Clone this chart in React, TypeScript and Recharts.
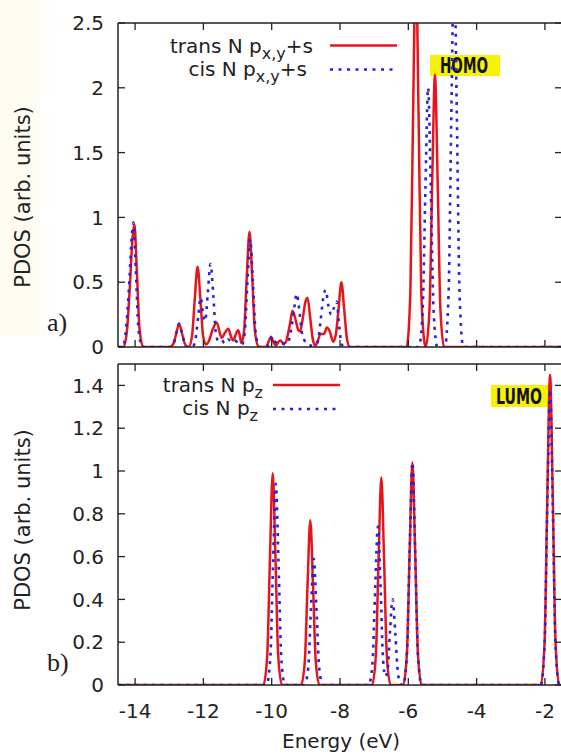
import React from 'react';
import { LineChart, Line, XAxis, YAxis } from 'recharts';

type Pt = [number, number];

// ---- axes ----
const energyTicks = [-14, -12, -10, -8, -6, -4, -2];
const energyDomain: [number, number] = [-14.5, -1.5];
const panelATicks = [0, 0.5, 1, 1.5, 2, 2.5];
const panelADomain: [number, number] = [0, 2.5];
const panelBTicks = [0, 0.2, 0.4, 0.6, 0.8, 1, 1.2, 1.4];
const panelBDomain: [number, number] = [0, 1.5];

// ---- panel a) : N p(x,y)+s  [energy eV, PDOS] ----
const aTrans: Pt[] = [
  [-14.5, 0], [-14.34, 0], [-14.24, 0.12], [-14.15, 0.48], [-14.08, 0.82], [-14.02, 0.95], [-13.95, 0.6], [-13.87, 0.14], [-13.76, 0],
  [-12.98, 0], [-12.87, 0.03], [-12.79, 0.11], [-12.71, 0.18], [-12.63, 0.11], [-12.55, 0.03], [-12.46, 0],
  [-12.43, 0], [-12.33, 0.09], [-12.25, 0.38], [-12.17, 0.62], [-12.09, 0.38], [-12.01, 0.09], [-11.93, 0.02],
  [-11.85, 0.04], [-11.72, 0.14], [-11.61, 0.19], [-11.5, 0.09], [-11.46, 0.07], [-11.37, 0.11], [-11.27, 0.14],
  [-11.18, 0.07], [-11.12, 0.05], [-11.05, 0.1], [-10.98, 0.13], [-10.92, 0.07],
  [-10.89, 0.03], [-10.81, 0.12], [-10.73, 0.54], [-10.65, 0.89], [-10.57, 0.54], [-10.49, 0.12], [-10.38, 0],
  [-10.17, 0], [-10.09, 0.04], [-10.02, 0.08], [-9.95, 0.04], [-9.88, 0.01], [-9.8, 0.04], [-9.74, 0.05],
  [-9.67, 0.03], [-9.6, 0.03], [-9.55, 0.07], [-9.47, 0.17], [-9.39, 0.28], [-9.31, 0.22], [-9.22, 0.13],
  [-9.17, 0.12], [-9.09, 0.22], [-9.02, 0.34], [-8.95, 0.38], [-8.87, 0.22], [-8.79, 0.05], [-8.72, 0.01],
  [-8.66, 0.04], [-8.57, 0.1], [-8.47, 0.1], [-8.38, 0.15], [-8.3, 0.12], [-8.2, 0.04], [-8.12, 0.1],
  [-8.04, 0.3], [-7.96, 0.5], [-7.88, 0.3], [-7.8, 0.07], [-7.71, 0],
  [-6.05, 0], [-5.94, 0.42], [-5.86, 1.8], [-5.78, 3.0], [-5.7, 1.8], [-5.62, 0.42], [-5.51, 0.01],
  [-5.49, 0], [-5.38, 0.29], [-5.3, 1.27], [-5.22, 2.1], [-5.14, 1.27], [-5.06, 0.29], [-4.95, 0],
  [-1.5, 0],
];

const aCis: Pt[] = [
  [-14.5, 0], [-14.37, 0], [-14.27, 0.12], [-14.18, 0.45], [-14.11, 0.8], [-14.05, 0.96], [-13.98, 0.6], [-13.9, 0.14], [-13.79, 0],
  [-12.98, 0], [-12.87, 0.03], [-12.79, 0.11], [-12.71, 0.18], [-12.63, 0.11], [-12.55, 0.03], [-12.46, 0],
  [-12.32, 0], [-12.23, 0.06], [-12.15, 0.24], [-12.08, 0.38], [-12.01, 0.26], [-11.95, 0.2], [-11.87, 0.42],
  [-11.79, 0.64], [-11.71, 0.4], [-11.64, 0.12], [-11.57, 0.05], [-11.48, 0.06], [-11.38, 0.03], [-11.28, 0.06],
  [-11.18, 0.04], [-11.08, 0.05], [-10.98, 0.03], [-10.9, 0.02],
  [-10.87, 0.02], [-10.79, 0.11], [-10.71, 0.5], [-10.63, 0.83], [-10.55, 0.5], [-10.47, 0.11], [-10.36, 0],
  [-10.14, 0], [-10.05, 0.05], [-9.97, 0.08], [-9.9, 0.04], [-9.82, 0.03], [-9.72, 0.03], [-9.6, 0.02],
  [-9.5, 0.05], [-9.42, 0.15], [-9.34, 0.3], [-9.27, 0.41], [-9.19, 0.28], [-9.12, 0.12], [-9.04, 0.05],
  [-8.95, 0.02], [-8.8, 0.01], [-8.72, 0.02],
  [-8.65, 0.04], [-8.57, 0.2], [-8.49, 0.38], [-8.42, 0.44], [-8.34, 0.32], [-8.26, 0.25], [-8.18, 0.3],
  [-8.1, 0.35], [-8.02, 0.15], [-7.95, 0.02], [-7.86, 0],
  [-5.69, 0], [-5.58, 0.28], [-5.5, 1.21], [-5.42, 2.0], [-5.34, 1.21], [-5.26, 0.28], [-5.15, 0],
  [-4.93, 0], [-4.82, 0.42], [-4.74, 1.8], [-4.66, 3.0], [-4.58, 1.8], [-4.5, 0.42], [-4.39, 0],
  [-1.5, 0],
];

// ---- panel b) : N p(z) ----
const bTrans: Pt[] = [
  [-14.5, 0],
  [-10.24, 0], [-10.13, 0.14], [-10.05, 0.6], [-9.97, 0.99], [-9.89, 0.6], [-9.81, 0.14], [-9.7, 0],
  [-9.14, 0], [-9.03, 0.11], [-8.95, 0.47], [-8.87, 0.77], [-8.79, 0.47], [-8.71, 0.11], [-8.6, 0],
  [-7.06, 0], [-6.95, 0.14], [-6.87, 0.59], [-6.79, 0.97], [-6.71, 0.59], [-6.63, 0.14], [-6.52, 0],
  [-6.15, 0], [-6.04, 0.15], [-5.96, 0.63], [-5.88, 1.04], [-5.8, 0.63], [-5.72, 0.15], [-5.61, 0],
  [-2.12, 0], [-2.01, 0.2], [-1.93, 0.88], [-1.85, 1.45], [-1.77, 0.88], [-1.69, 0.2], [-1.58, 0],
  [-1.5, 0],
];

const bCis: Pt[] = [
  [-14.5, 0],
  [-10.15, 0], [-10.04, 0.13], [-9.96, 0.57], [-9.88, 0.94], [-9.8, 0.57], [-9.72, 0.13], [-9.61, 0],
  [-9.04, 0], [-8.93, 0.08], [-8.85, 0.36], [-8.77, 0.59], [-8.69, 0.36], [-8.61, 0.08], [-8.5, 0],
  [-7.16, 0], [-7.05, 0.1], [-6.97, 0.45], [-6.89, 0.74], [-6.81, 0.45], [-6.74, 0.12], [-6.67, 0.04],
  [-6.6, 0.08], [-6.54, 0.24], [-6.46, 0.4], [-6.38, 0.24], [-6.3, 0.05], [-6.2, 0],
  [-6.15, 0], [-6.04, 0.15], [-5.96, 0.63], [-5.88, 1.04], [-5.8, 0.63], [-5.72, 0.15], [-5.61, 0],
  [-2.12, 0], [-2.01, 0.19], [-1.93, 0.84], [-1.85, 1.38], [-1.77, 0.84], [-1.69, 0.19], [-1.58, 0],
  [-1.5, 0],
];

const toRows = (pts: Pt[]) => pts.map(([e, v]) => ({ e, v }));

// ---- styles ----
const FRAME = '#222';
const TEXT = '#222';
const RED = '#e8141c';
const BLUE = '#2424d8';
const SANS = "'DejaVu Sans', 'Liberation Sans', Arial, sans-serif";
const SERIF = "'Liberation Serif', 'DejaVu Serif', serif";
const TICK_LEN = 7;
const DOTS = '3 5.5';

const LeftTick = (p: any) => {
  const { x, y, payload } = p;
  return (
    <g>
      <line x1={x} x2={x + TICK_LEN} y1={y} y2={y} stroke={FRAME} strokeWidth={1.3} />
      <text x={x - 14} y={y} dy="0.36em" textAnchor="end" fontFamily={SANS} fontSize={20} fill={TEXT}>
        {String(payload.value)}
      </text>
    </g>
  );
};

const RightTick = (p: any) => {
  const { x, y } = p;
  return <line x1={x} x2={x - TICK_LEN} y1={y} y2={y} stroke={FRAME} strokeWidth={1.3} />;
};

const TopTick = (p: any) => {
  const { x, y } = p;
  return <line x1={x} x2={x} y1={y} y2={y + TICK_LEN} stroke={FRAME} strokeWidth={1.3} />;
};

const makeBottomTick = (showLabel: boolean) => (p: any) => {
  const { x, y, payload } = p;
  return (
    <g>
      <line x1={x} x2={x} y1={y} y2={y - TICK_LEN} stroke={FRAME} strokeWidth={1.3} />
      {showLabel && (
        <text x={x} y={y + 33} textAnchor="middle" fontFamily={SANS} fontSize={20} fill={TEXT}>
          {String(payload.value)}
        </text>
      )}
    </g>
  );
};

type PanelProps = {
  top: number;
  height: number;
  mTop: number;
  mBottom: number;
  yDomain: [number, number];
  yTicks: number[];
  trans: Pt[];
  cis: Pt[];
  showXLabels: boolean;
};

function Panel({ top, height, mTop, mBottom, yDomain, yTicks, trans, cis, showXLabels }: PanelProps) {
  const axisLine = { stroke: FRAME, strokeWidth: 1.5 };
  return (
    <div style={{ position: 'absolute', left: 0, top }}>
      <LineChart width={600} height={height} margin={{ top: mTop, right: 37, bottom: mBottom, left: 0 }}>
        <XAxis
          xAxisId="b" type="number" dataKey="e" orientation="bottom" domain={energyDomain} ticks={energyTicks}
          allowDataOverflow interval={0} height={1} tickSize={0} tickMargin={0} tickLine={false}
          axisLine={axisLine} tick={makeBottomTick(showXLabels)}
        />
        <XAxis
          xAxisId="t" type="number" dataKey="e" orientation="top" domain={energyDomain} ticks={energyTicks}
          allowDataOverflow interval={0} height={1} tickSize={0} tickMargin={0} tickLine={false}
          axisLine={axisLine} tick={TopTick}
        />
        <YAxis
          yAxisId="l" type="number" orientation="left" domain={yDomain} ticks={yTicks}
          allowDataOverflow interval={0} width={118} tickSize={0} tickMargin={0} tickLine={false}
          axisLine={axisLine} tick={LeftTick}
        />
        <YAxis
          yAxisId="r" type="number" orientation="right" domain={yDomain} ticks={yTicks}
          allowDataOverflow interval={0} width={1} tickSize={0} tickMargin={0} tickLine={false}
          axisLine={axisLine} tick={RightTick}
        />
        <Line
          xAxisId="b" yAxisId="l" data={toRows(trans)} dataKey="v" type="monotone"
          stroke={RED} strokeWidth={2.5} dot={false} activeDot={false} isAnimationActive={false}
        />
        <Line
          xAxisId="b" yAxisId="l" data={toRows(cis)} dataKey="v" type="monotone"
          stroke={BLUE} strokeWidth={2.6} strokeDasharray={DOTS} dot={false} activeDot={false} isAnimationActive={false}
        />
      </LineChart>
    </div>
  );
}

export default function App() {
  return (
    <div style={{ position: 'absolute', left: 0, top: 0, width: 561, height: 756, background: '#fff', overflow: 'hidden' }}>
      <div style={{ position: 'absolute', left: 0, top: 0, width: 40, height: 336, background: '#fffdf2' }} />

      {/* HOMO / LUMO tags, drawn beneath the curves */}
      <svg width={561} height={756} style={{ position: 'absolute', left: 0, top: 0 }}>
        <rect x={430} y={55} width={70} height={21} fill="#f7f205" />
        <text x={440} y={72.5} textLength={48} lengthAdjust="spacingAndGlyphs" fontFamily={SANS} fontWeight="bold" fontSize={21} fill="#111">
          HOMO
        </text>
        <rect x={491} y={385} width={61} height={22} fill="#f7f205" />
        <text x={496} y={403.5} textLength={46} lengthAdjust="spacingAndGlyphs" fontFamily={SANS} fontWeight="bold" fontSize={21} fill="#111">
          LUMO
        </text>
      </svg>

      <Panel top={0} height={360} mTop={22} mBottom={12} yDomain={panelADomain} yTicks={panelATicks}
        trans={aTrans} cis={aCis} showXLabels={false} />
      <Panel top={355} height={401} mTop={8} mBottom={70} yDomain={panelBDomain} yTicks={panelBTicks}
        trans={bTrans} cis={bCis} showXLabels={true} />

      <svg width={561} height={756} style={{ position: 'absolute', left: 0, top: 0, pointerEvents: 'none' }}>
        {/* y-axis titles */}
        <text transform="rotate(-90)" x={-197} y={30} textAnchor="middle" fontFamily={SANS} fontSize={21} fill={TEXT}>
          PDOS (arb. units)
        </text>
        <text transform="rotate(-90)" x={-520} y={30} textAnchor="middle" fontFamily={SANS} fontSize={21} fill={TEXT}>
          PDOS (arb. units)
        </text>
        {/* panel tags */}
        <text x={47} y={331} fontFamily={SERIF} fontSize={26} fill={TEXT}>a)</text>
        <text x={47} y={671} fontFamily={SERIF} fontSize={26} fill={TEXT}>b)</text>
        {/* x-axis title */}
        <text x={341} y={748} textAnchor="middle" fontFamily={SANS} fontSize={20} fill={TEXT}>Energy (eV)</text>

        {/* legend a */}
        <text x={313} y={53} textAnchor="end" fontFamily={SANS} fontSize={20} fill={TEXT}>
          trans N p<tspan dy={6} fontSize={16}>x,y</tspan><tspan dy={-6} fontSize={20}>+s</tspan>
        </text>
        <line x1={330} x2={397} y1={45.5} y2={45.5} stroke={RED} strokeWidth={2.5} />
        <text x={307} y={76} textAnchor="end" fontFamily={SANS} fontSize={20} fill={TEXT}>
          cis N p<tspan dy={6} fontSize={16}>x,y</tspan><tspan dy={-6} fontSize={20}>+s</tspan>
        </text>
        <line x1={330} x2={394} y1={69.5} y2={69.5} stroke={BLUE} strokeWidth={2.6} strokeDasharray={DOTS} />

        {/* legend b */}
        <text x={263} y={392} textAnchor="end" fontFamily={SANS} fontSize={20} fill={TEXT}>
          trans N p<tspan dy={6} fontSize={16}>z</tspan>
        </text>
        <line x1={273} x2={340} y1={385} y2={385} stroke={RED} strokeWidth={2.5} />
        <text x={258} y={415} textAnchor="end" fontFamily={SANS} fontSize={20} fill={TEXT}>
          cis N p<tspan dy={6} fontSize={16}>z</tspan>
        </text>
        <line x1={273} x2={338} y1={409} y2={409} stroke={BLUE} strokeWidth={2.6} strokeDasharray={DOTS} />
      </svg>
    </div>
  );
}
